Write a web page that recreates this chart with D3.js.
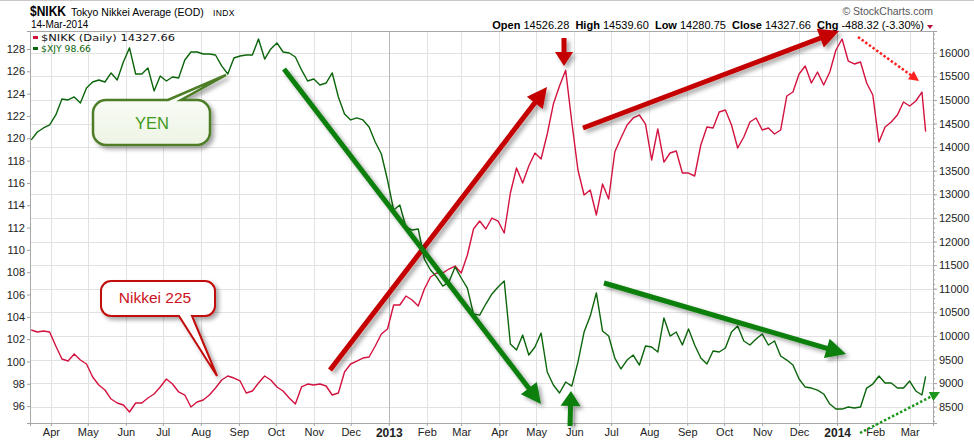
<!DOCTYPE html>
<html>
<head>
<meta charset="utf-8">
<script src="https://cdn.jsdelivr.net/npm/d3@7"></script>
<style>
html, body { margin: 0; padding: 0; background: #fff; }
svg { display: block; font-family: "Liberation Sans", Arial, sans-serif; }
</style>
</head>
<body>
<div class="chart"></div>
<script>
const dates = [
	'2012-03-16','2012-03-21','2012-03-26','2012-03-31','2012-04-05','2012-04-10','2012-04-15','2012-04-20','2012-04-25','2012-04-30',
	'2012-05-05','2012-05-10','2012-05-15','2012-05-20','2012-05-25','2012-05-30','2012-06-04','2012-06-09','2012-06-14','2012-06-19',
	'2012-06-24','2012-06-29','2012-07-04','2012-07-09','2012-07-14','2012-07-19','2012-07-24','2012-07-29','2012-08-03','2012-08-08',
	'2012-08-13','2012-08-18','2012-08-23','2012-08-28','2012-09-02','2012-09-07','2012-09-12','2012-09-17','2012-09-22','2012-09-27',
	'2012-10-02','2012-10-07','2012-10-12','2012-10-17','2012-10-22','2012-10-27','2012-11-01','2012-11-06','2012-11-11','2012-11-16',
	'2012-11-21','2012-11-26','2012-12-01','2012-12-06','2012-12-11','2012-12-16','2012-12-21','2012-12-26','2012-12-31','2013-01-05',
	'2013-01-10','2013-01-15','2013-01-20','2013-01-25','2013-01-30','2013-02-04','2013-02-09','2013-02-14','2013-02-19','2013-02-24',
	'2013-03-01','2013-03-06','2013-03-11','2013-03-16','2013-03-21','2013-03-26','2013-03-31','2013-04-05','2013-04-10','2013-04-15',
	'2013-04-20','2013-04-25','2013-04-30','2013-05-05','2013-05-10','2013-05-15','2013-05-20','2013-05-25','2013-05-30','2013-06-04',
	'2013-06-09','2013-06-14','2013-06-19','2013-06-24','2013-06-29','2013-07-04','2013-07-09','2013-07-14','2013-07-19','2013-07-24',
	'2013-07-29','2013-08-03','2013-08-08','2013-08-13','2013-08-18','2013-08-23','2013-08-28','2013-09-02','2013-09-07','2013-09-12',
	'2013-09-17','2013-09-22','2013-09-27','2013-10-02','2013-10-07','2013-10-12','2013-10-17','2013-10-22','2013-10-27','2013-11-01',
	'2013-11-06','2013-11-11','2013-11-16','2013-11-21','2013-11-26','2013-12-01','2013-12-06','2013-12-11','2013-12-16','2013-12-21',
	'2013-12-26','2013-12-31','2014-01-05','2014-01-10','2014-01-15','2014-01-20','2014-01-25','2014-01-30','2014-02-04','2014-02-09',
	'2014-02-14','2014-02-19','2014-02-24','2014-03-01','2014-03-06','2014-03-11','2014-03-14'
];

const nikkei = [
	10125,10083,10104,10083,9786,9511,9468,9617,9490,9405,
	9129,8960,8854,8663,8579,8536,8388,8579,8579,8685,
	8769,8918,9087,8981,8812,8748,8494,8600,8642,8748,
	8896,9066,9151,9108,9045,8790,8833,9002,9151,9066,
	8918,8833,8685,8557,8918,8981,8960,8981,8939,8748,
	8790,9235,9405,9468,9532,9553,9786,10040,10146,10655,
	10655,10845,10761,10634,10994,11248,11333,11333,11417,11481,
	11333,11714,12265,12434,12265,12498,12434,12180,13028,13557,
	13239,13600,13875,13748,14278,14913,15295,15627,14532,13515,
	12985,13091,12562,13218,12900,13896,14193,14468,14617,14680,
	14489,13727,14384,13684,13875,13917,13451,13451,13388,14045,
	14426,14405,14744,14786,14468,13981,14214,14532,14617,14362,
	14405,14278,14362,15083,15167,15549,15718,15358,15591,15316,
	15591,16057,16290,15824,15761,15803,15358,15104,14108,14426,
	14532,14680,14956,14871,14977,15167,14327.66
];

const yen = [
	119.85,120.56,120.92,121.19,122.09,123.52,123.43,123.70,123.16,124.51,
	125.04,125.22,125.04,125.85,125.22,126.84,128.10,125.76,125.76,126.30,
	124.24,125.58,125.13,125.49,125.40,127.01,127.73,127.73,127.55,127.55,
	127.46,126.48,125.76,127.19,127.37,127.46,127.46,128.90,127.10,128.00,
	128.54,127.73,127.64,127.28,126.12,125.13,125.31,124.77,124.95,125.85,
	123.70,122.18,121.64,121.82,121.64,121.01,119.67,118.59,116.26,113.57,
	114.02,112.05,111.78,111.87,109.18,108.20,107.57,106.76,107.12,108.47,
	107.48,106.58,104.25,104.16,105.15,106.05,106.67,107.21,101.57,101.03,
	102.37,100.58,101.30,102.55,99.06,97.89,97.18,98.16,97.80,99.95,
	102.64,104.07,106.14,102.73,102.28,100.31,99.33,100.13,100.58,99.68,
	101.39,101.30,100.85,103.90,102.28,102.64,101.48,102.91,101.48,100.31,
	99.77,100.94,100.85,101.21,102.64,103.18,101.84,101.48,102.01,102.46,
	101.48,101.84,100.49,100.13,99.68,98.43,97.71,97.62,97.44,97.09,
	96.19,95.74,95.74,95.92,95.83,95.92,97.62,97.98,98.70,98.07,
	98.07,97.62,97.62,98.25,97.36,97.00,98.66
];

const yenTicks = [96, 98, 100, 102, 104, 106, 108, 110, 112, 114, 116, 118, 120, 122, 124, 126, 128];
const nikkeiTicks = [8500, 9000, 9500, 10000, 10500, 11000, 11500, 12000, 12500, 13000, 13500, 14000, 14500, 15000, 15500, 16000];

const quoteLabels = ['Open', 'High', 'Low', 'Close', 'Chg'];
const quoteValues = ['14526.28', '14539.60', '14280.75', '14327.66', '-488.32 (-3.30%)'];

let w = 974;
let h = 440;
let pLeft = 30, pRight = 933, pTop = 31, pBottom = 423;

let days = dates.map(d3.timeParse('%Y-%m-%d'));

let x = d3.scaleTime().domain([ new Date(2012, 2, 15), new Date(2014, 2, 20) ]).range([ pLeft, pRight ]);
let yL = d3.scaleLinear().domain([ 94.49, 129.61 ]).range([ pBottom, pTop ]);
let yR = d3.scaleLinear().domain([ 8155, 16460 ]).range([ pBottom, pTop ]);
let months = d3.timeMonth.range(new Date(2012, 3, 1), new Date(2014, 3, 1));

let svg = d3.select('.chart').append('svg').attr('width', w).attr('height', h);

let defs = svg.append('defs');
defs
	.append('filter')
	.attr('id', 'shadow')
	.attr('x', '-30%')
	.attr('y', '-30%')
	.attr('width', '160%')
	.attr('height', '160%')
	.append('feDropShadow')
	.attr('dx', 3)
	.attr('dy', 3)
	.attr('stdDeviation', 2)
	.attr('flood-color', '#000')
	.attr('flood-opacity', 0.35);
let grad = defs.append('linearGradient').attr('id', 'yenFill').attr('x1', 0).attr('y1', 0).attr('x2', 0).attr('y2', 1);
grad.append('stop').attr('offset', '0%').attr('stop-color', '#ffffff');
grad.append('stop').attr('offset', '100%').attr('stop-color', '#edf4e4');

svg.append('rect').attr('width', w).attr('height', h).attr('fill', '#fff');
svg.append('line').attr('x1', 0).attr('x2', w).attr('y1', 0.5).attr('y2', 0.5).attr('stroke', '#c8c8c8');

// header
svg.append('text').attr('x', 30).attr('y', 16).attr('font-size', 14).attr('font-weight', 'bold')
	.attr('textLength', 36).attr('lengthAdjust', 'spacingAndGlyphs').text('$NIKK');
svg.append('text').attr('x', 71).attr('y', 16).attr('font-size', 10.5).text('Tokyo Nikkei Average (EOD)');
svg.append('text').attr('x', 213).attr('y', 16).attr('font-size', 8.5).attr('letter-spacing', 0.4).text('INDX');
svg.append('text').attr('x', 31).attr('y', 28).attr('font-size', 10).text('14-Mar-2014');

svg.append('text').attr('x', 933).attr('y', 15).attr('text-anchor', 'end').attr('font-size', 10.5)
	.attr('fill', '#555').text('\u00a9 StockCharts.com');

let quote = svg.append('text').attr('x', 924).attr('y', 28.5).attr('text-anchor', 'end').attr('font-size', 11);
quoteLabels.forEach((l, i) => {
	quote.append('tspan').attr('font-weight', 'bold').text((i ? '\u00a0\u00a0' : '') + l + '\u00a0');
	quote.append('tspan').text(quoteValues[i]);
});
svg.append('path').attr('d', 'M927,25L933,25L930,29Z').attr('fill', '#b0103a');

// grid
let grid = svg.append('g');
grid.selectAll('.hg').data(nikkeiTicks).enter().append('line')
	.attr('x1', pLeft).attr('x2', pRight)
	.attr('y1', (d) => Math.round(yR(d)) + 0.5).attr('y2', (d) => Math.round(yR(d)) + 0.5)
	.attr('stroke', '#e2e2e2');
grid.selectAll('.vg').data(months).enter().append('line')
	.attr('x1', (d) => Math.round(x(d)) + 0.5).attr('x2', (d) => Math.round(x(d)) + 0.5)
	.attr('y1', pTop).attr('y2', pBottom)
	.attr('stroke', (d) => (d.getMonth() === 0 ? '#b8b8b8' : '#e2e2e2'));

// axes
function styleAxis(g) {
	g.selectAll('path.domain').attr('stroke', '#a0a0a0');
	g.selectAll('.tick line').attr('stroke', '#a0a0a0');
	g.selectAll('.tick text').attr('fill', '#222').attr('font-size', 11).attr('font-family', '"Liberation Sans", Arial, sans-serif');
}

svg.append('g').attr('transform', 'translate(' + pLeft + ',0)')
	.call(d3.axisLeft(yL).tickValues(yenTicks).tickSize(3).tickPadding(2).tickFormat(d3.format('d')))
	.call(styleAxis);

svg.append('g').attr('transform', 'translate(' + pRight + ',0)')
	.call(d3.axisRight(yR).tickValues(d3.range(8200, 16500, 100)).tickSize(2).tickFormat(''))
	.call(styleAxis);
svg.append('g').attr('transform', 'translate(' + pRight + ',0)')
	.call(d3.axisRight(yR).tickValues(nikkeiTicks).tickSize(4).tickPadding(2).tickFormat(d3.format('d')))
	.call(styleAxis);

let xAxis = svg.append('g').attr('transform', 'translate(0,' + pBottom + ')')
	.call(d3.axisBottom(x).tickValues(months).tickSize(3).tickPadding(2)
		.tickFormat((d) => (d.getMonth() === 0 ? d3.timeFormat('%Y')(d) : d3.timeFormat('%b')(d))))
	.call(styleAxis);
xAxis.selectAll('.tick text')
	.attr('font-weight', (d) => (d.getMonth() === 0 ? 'bold' : null))
	.attr('font-size', (d) => (d.getMonth() === 0 ? 12 : 11));

svg.append('rect').attr('x', pLeft + 0.5).attr('y', pTop + 0.5).attr('width', pRight - pLeft).attr('height', pBottom - pTop)
	.attr('fill', 'none').attr('stroke', '#a8a8a8');

// series
svg.append('path').datum(nikkei)
	.attr('d', d3.line().x((d, i) => x(days[i])).y((d) => yR(d)))
	.attr('fill', 'none').attr('stroke', '#d3123f').attr('stroke-width', 1.4).attr('stroke-linejoin', 'round');

svg.append('path').datum(yen)
	.attr('d', d3.line().x((d, i) => x(days[i])).y((d) => yL(d)))
	.attr('fill', 'none').attr('stroke', '#0b650b').attr('stroke-width', 1.4).attr('stroke-linejoin', 'round');

// legend
let legend = svg.append('g').attr('font-family', '"DejaVu Sans", sans-serif').attr('font-size', 9.5);
legend.append('rect').attr('x', 33).attr('y', 36).attr('width', 5).attr('height', 3).attr('fill', '#d3123f');
legend.append('text').attr('x', 41).attr('y', 41).attr('fill', '#111')
	.attr('textLength', 134).attr('lengthAdjust', 'spacingAndGlyphs')
	.text('$NIKK (Daily) ' + d3.format('.2f')(nikkei[nikkei.length - 1]));
legend.append('rect').attr('x', 33).attr('y', 47).attr('width', 5).attr('height', 3).attr('fill', '#0b650b');
legend.append('text').attr('x', 41).attr('y', 52).attr('fill', '#0b650b')
	.attr('textLength', 50).attr('lengthAdjust', 'spacingAndGlyphs')
	.text('$XJY ' + d3.format('.2f')(yen[yen.length - 1]));

// callouts
function callout(x0, y0, x1, y1, r, b1, b2, tip, side) {
	let p = d3.path();
	p.moveTo(x0 + r, y0);
	if (side === 'top') {
		p.lineTo(b1, y0);
		p.lineTo(tip[0], tip[1]);
		p.lineTo(b2, y0);
	}
	p.lineTo(x1 - r, y0);
	p.arcTo(x1, y0, x1, y0 + r, r);
	p.lineTo(x1, y1 - r);
	p.arcTo(x1, y1, x1 - r, y1, r);
	if (side === 'bottom') {
		p.lineTo(b2, y1);
		p.lineTo(tip[0], tip[1]);
		p.lineTo(b1, y1);
	}
	p.lineTo(x0 + r, y1);
	p.arcTo(x0, y1, x0, y1 - r, r);
	p.lineTo(x0, y0 + r);
	p.arcTo(x0, y0, x0 + r, y0, r);
	p.closePath();
	return p.toString();
}

svg.append('path').attr('d', callout(93, 100, 210, 145, 13, 168, 181, [ 226, 75 ], 'top'))
	.attr('fill', 'url(#yenFill)').attr('stroke', '#4d7d25').attr('stroke-width', 2.5).attr('filter', 'url(#shadow)');
svg.append('text').attr('x', 152).attr('y', 128.5).attr('text-anchor', 'middle').attr('font-size', 16.5)
	.attr('fill', '#3f9a1c').text('YEN');

svg.append('path').attr('d', callout(101, 281, 215, 316, 10, 179, 192, [ 217, 376 ], 'bottom'))
	.attr('fill', '#fff').attr('stroke', '#c20a0a').attr('stroke-width', 2).attr('filter', 'url(#shadow)');
svg.append('text').attr('x', 155).attr('y', 303).attr('text-anchor', 'middle').attr('font-size', 15.5)
	.attr('fill', '#cc1020').text('Nikkei 225');

// arrows
function arrow(x1, y1, x2, y2, o) {
	let len = Math.hypot(x2 - x1, y2 - y1);
	let ux = (x2 - x1) / len, uy = (y2 - y1) / len;
	let bx = x2 - ux * o.head, by = y2 - uy * o.head;
	let g = svg.append('g').attr('filter', o.dash ? null : 'url(#shadow)');
	g.append('line').attr('x1', x1).attr('y1', y1).attr('x2', bx + ux).attr('y2', by + uy)
		.attr('stroke', o.color).attr('stroke-width', o.width).attr('stroke-dasharray', o.dash || null);
	g.append('path')
		.attr('d', 'M' + x2 + ',' + y2 + 'L' + (bx - uy * o.half) + ',' + (by + ux * o.half) + 'L' + (bx + uy * o.half) + ',' + (by - ux * o.half) + 'Z')
		.attr('fill', o.color);
}

let redArrow = { color: '#c40000', width: 5, head: 20, half: 10 };
let greenArrow = { color: '#0a7f0a', width: 5, head: 20, half: 10 };
arrow(330, 370, 547, 87, redArrow);
arrow(583, 128, 839, 31, redArrow);
arrow(564, 38, 564, 66, { color: '#c40000', width: 5, head: 14, half: 9 });
arrow(284, 69, 541, 404, greenArrow);
arrow(604, 283, 846, 354, greenArrow);
arrow(570, 426, 571, 391, { color: '#0a7f0a', width: 5, head: 15, half: 10 });
arrow(858, 37, 919, 81, { color: '#ff2020', width: 2.5, head: 10, half: 5, dash: '2.5,2' });
arrow(860, 433, 940, 392, { color: '#1c961c', width: 2.5, head: 10, half: 5, dash: '2.5,2' });
</script>
</body>
</html>
